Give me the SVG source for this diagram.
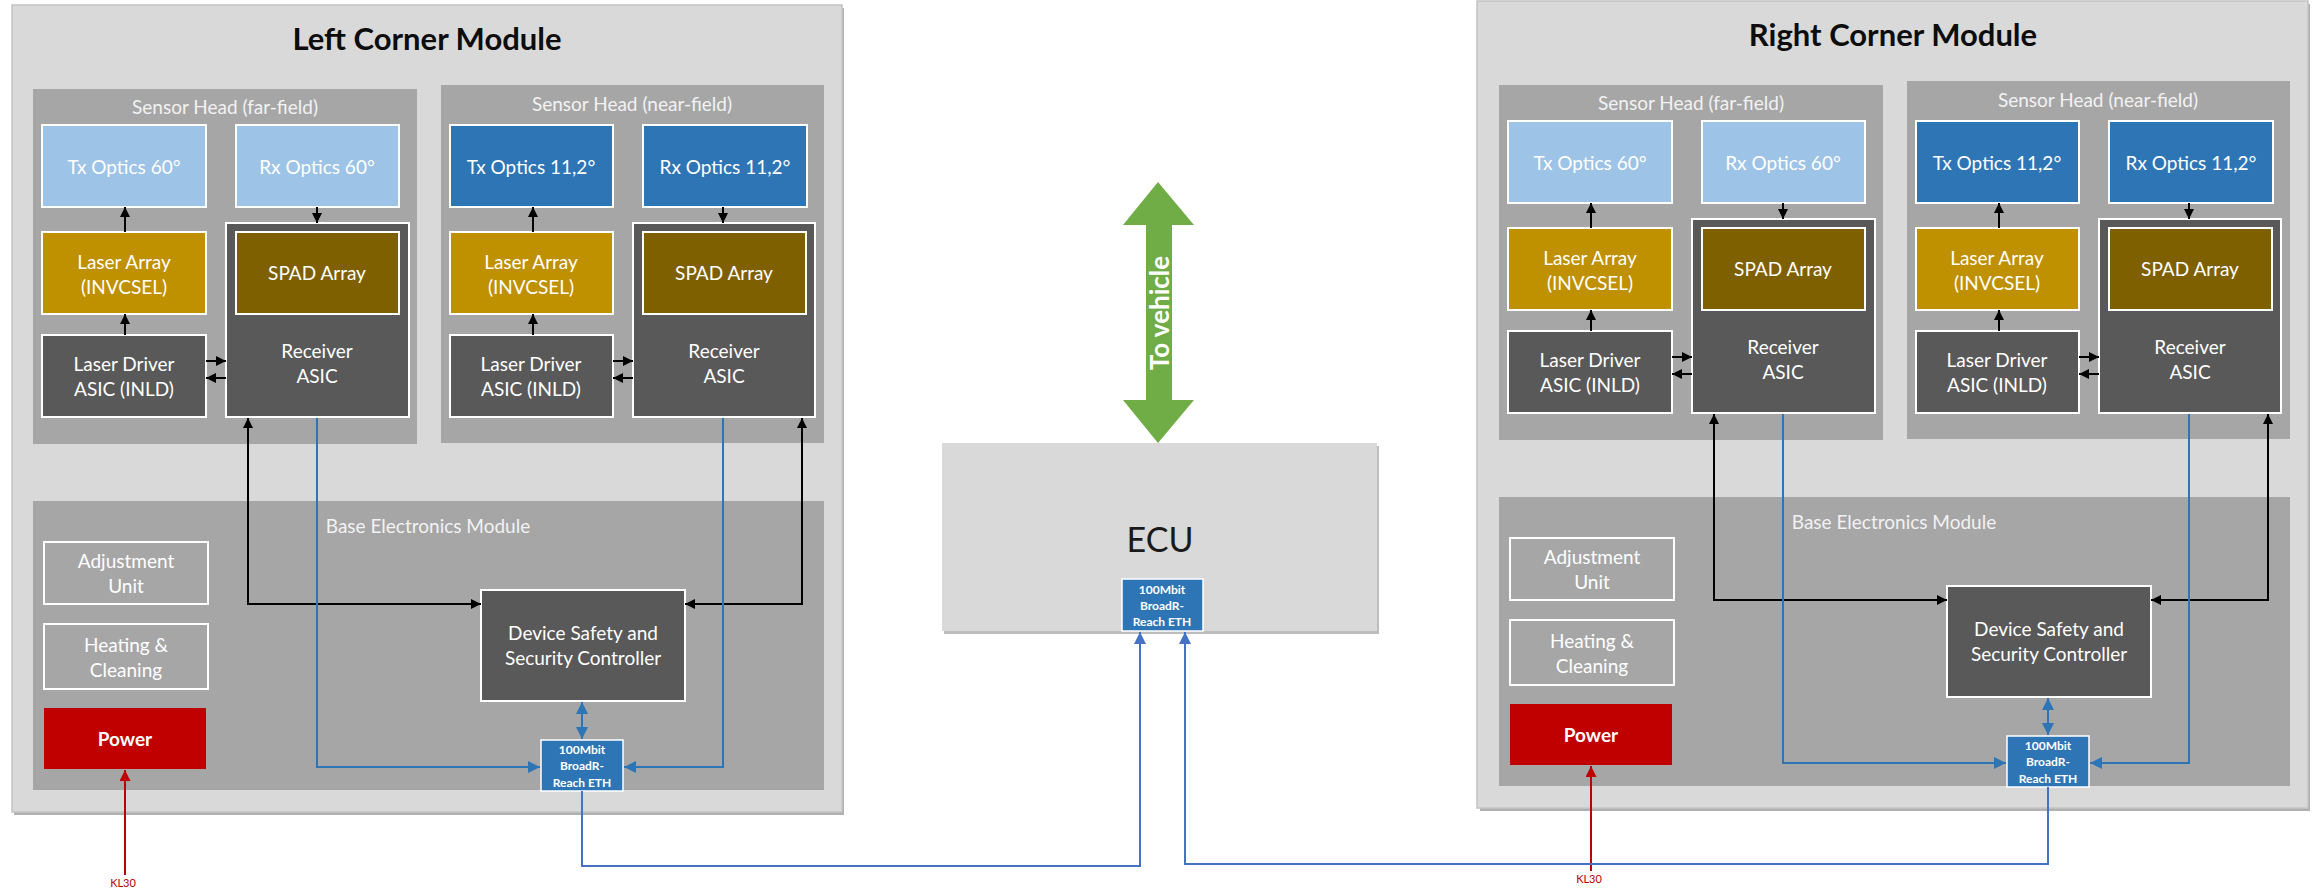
<svg xmlns="http://www.w3.org/2000/svg" width="2313" height="888" viewBox="0 0 2313 888">
<defs>
<style>
text{font-family:Lato,"Open Sans","Liberation Sans",sans-serif;text-anchor:middle;dominant-baseline:central}
.mod{fill:#D9D9D9;stroke:#C4C4C4;stroke-width:1.5}
.modsh{fill:#B0B0B0}
.head{fill:#A6A6A6}
.hl{fill:#F2F2F2;font-size:19px}
.title{fill:#0D0D0D;font-size:31px;font-weight:bold}
.box{stroke:#FFFFFF;stroke-width:2}
.lt{fill:#9DC3E6}
.dk{fill:#2E75B6}
.la{fill:#BF9000}
.sp{fill:#7F6000}
.gr{fill:#595959}
.out{fill:none}
.pw{fill:#C00000;stroke:none}
.eth{fill:#2E75B6;stroke:#FFFFFF;stroke-width:1.5}
.t{fill:#FFFFFF;font-size:19px}
.tb{fill:#FFFFFF;font-size:19px;font-weight:bold}
.te{fill:#FFFFFF;font-size:12px;font-weight:bold}
.kl{fill:#C00000;font-size:11px}
.cb{fill:none;stroke:#000000;stroke-width:2}
.cbl{fill:none;stroke:#2E75B6;stroke-width:2}
.cec{fill:none;stroke:#4472C4;stroke-width:2}
.cr{fill:none;stroke:#C00000;stroke-width:2}
</style>
<marker id="ab" viewBox="0 0 10 10" refX="10" refY="5" markerWidth="10" markerHeight="10" markerUnits="userSpaceOnUse" orient="auto-start-reverse"><path d="M0,0 L10,5 L0,10 z" fill="#000000"/></marker>
<marker id="abl" viewBox="0 0 10 10" refX="10" refY="5" markerWidth="12" markerHeight="13" markerUnits="userSpaceOnUse" orient="auto-start-reverse"><path d="M0,0 L10,5 L0,10 z" fill="#2E75B6"/></marker>
<marker id="aec" viewBox="0 0 10 10" refX="10" refY="5" markerWidth="12" markerHeight="13" markerUnits="userSpaceOnUse" orient="auto-start-reverse"><path d="M0,0 L10,5 L0,10 z" fill="#4472C4"/></marker>
<marker id="ar" viewBox="0 0 10 10" refX="10" refY="5" markerWidth="12" markerHeight="11" markerUnits="userSpaceOnUse" orient="auto-start-reverse"><path d="M0,0 L10,5 L0,10 z" fill="#C00000"/></marker>
</defs>
<rect x="0" y="0" width="2313" height="888" fill="#FFFFFF"/>

<!-- LEFT CORNER MODULE -->
<g id="left-module">
<g id="l-outer"><rect class="modsh" x="14" y="8" width="830" height="807"/><rect class="mod" x="12" y="5" width="830" height="807"/><text class="title" x="427" y="38">Left Corner Module</text></g>
<g id="l-head-far"><rect class="head" x="33" y="89" width="384" height="355"/><text class="hl" x="225" y="106">Sensor Head (far-field)</text></g>
<g id="l-head-near"><rect class="head" x="441" y="85" width="383" height="358"/><text class="hl" x="632" y="103">Sensor Head (near-field)</text></g>
<g id="l-base"><rect class="head" x="33" y="501" width="791" height="289"/><text class="hl" x="428" y="525">Base Electronics Module</text></g>
<g id="l-tx60"><rect class="box lt" x="42" y="125" width="164" height="82"/><text class="t" x="124" y="166">Tx Optics 60°</text></g>
<g id="l-rx60"><rect class="box lt" x="236" y="125" width="163" height="82"/><text class="t" x="317" y="166">Rx Optics 60°</text></g>
<g id="l-laser-far"><rect class="box la" x="42" y="232" width="164" height="82"/><text class="t" x="124" y="261">Laser Array</text><text class="t" x="124" y="286">(INVCSEL)</text></g>
<g id="l-rcv-far"><rect class="box gr" x="226" y="223" width="183" height="194"/><text class="t" x="317" y="350">Receiver</text><text class="t" x="317" y="375">ASIC</text></g>
<g id="l-spad-far"><rect class="box sp" x="236" y="232" width="163" height="82"/><text class="t" x="317" y="272">SPAD Array</text></g>
<g id="l-drv-far"><rect class="box gr" x="42" y="335" width="164" height="82"/><text class="t" x="124" y="363">Laser Driver</text><text class="t" x="124" y="388">ASIC (INLD)</text></g>
<g id="l-tx11"><rect class="box dk" x="450" y="125" width="163" height="82"/><text class="t" x="531" y="166">Tx Optics 11,2°</text></g>
<g id="l-rx11"><rect class="box dk" x="643" y="125" width="164" height="82"/><text class="t" x="725" y="166">Rx Optics 11,2°</text></g>
<g id="l-laser-near"><rect class="box la" x="450" y="232" width="163" height="82"/><text class="t" x="531" y="261">Laser Array</text><text class="t" x="531" y="286">(INVCSEL)</text></g>
<g id="l-rcv-near"><rect class="box gr" x="633" y="223" width="182" height="194"/><text class="t" x="724" y="350">Receiver</text><text class="t" x="724" y="375">ASIC</text></g>
<g id="l-spad-near"><rect class="box sp" x="643" y="232" width="163" height="82"/><text class="t" x="724" y="272">SPAD Array</text></g>
<g id="l-drv-near"><rect class="box gr" x="450" y="335" width="163" height="82"/><text class="t" x="531" y="363">Laser Driver</text><text class="t" x="531" y="388">ASIC (INLD)</text></g>
<g id="l-adjust"><rect class="box out" x="44" y="542" width="164" height="62"/><text class="t" x="126" y="560">Adjustment</text><text class="t" x="126" y="585">Unit</text></g>
<g id="l-heating"><rect class="box out" x="44" y="624" width="164" height="65"/><text class="t" x="126" y="644">Heating &amp;</text><text class="t" x="126" y="669">Cleaning</text></g>
<g id="l-power"><rect class="pw" x="44" y="708" width="162" height="61"/><text class="tb" x="125" y="738">Power</text></g>
<g id="l-dssc"><rect class="box gr" x="481" y="590" width="204" height="111"/><text class="t" x="583" y="632">Device Safety and</text><text class="t" x="583" y="657">Security Controller</text></g>
<g id="l-eth"><rect class="eth" x="541" y="740" width="82" height="51"/><text class="te" x="582" y="749">100Mbit</text><text class="te" x="582" y="765">BroadR-</text><text class="te" x="582" y="782">Reach ETH</text></g>
<g id="l-kl30"><text class="kl" x="123" y="882">KL30</text></g>
</g>

<!-- RIGHT CORNER MODULE -->
<g id="right-module" transform="translate(1466,-4)">
<g id="r-outer"><rect class="modsh" x="14" y="8" width="830" height="807"/><rect class="mod" x="11" y="5" width="831" height="807"/><text class="title" x="427" y="38">Right Corner Module</text></g>
<g id="r-head-far"><rect class="head" x="33" y="89" width="384" height="355"/><text class="hl" x="225" y="106">Sensor Head (far-field)</text></g>
<g id="r-head-near"><rect class="head" x="441" y="85" width="383" height="358"/><text class="hl" x="632" y="103">Sensor Head (near-field)</text></g>
<g id="r-base"><rect class="head" x="33" y="501" width="791" height="289"/><text class="hl" x="428" y="525">Base Electronics Module</text></g>
<g id="r-tx60"><rect class="box lt" x="42" y="125" width="164" height="82"/><text class="t" x="124" y="166">Tx Optics 60°</text></g>
<g id="r-rx60"><rect class="box lt" x="236" y="125" width="163" height="82"/><text class="t" x="317" y="166">Rx Optics 60°</text></g>
<g id="r-laser-far"><rect class="box la" x="42" y="232" width="164" height="82"/><text class="t" x="124" y="261">Laser Array</text><text class="t" x="124" y="286">(INVCSEL)</text></g>
<g id="r-rcv-far"><rect class="box gr" x="226" y="223" width="183" height="194"/><text class="t" x="317" y="350">Receiver</text><text class="t" x="317" y="375">ASIC</text></g>
<g id="r-spad-far"><rect class="box sp" x="236" y="232" width="163" height="82"/><text class="t" x="317" y="272">SPAD Array</text></g>
<g id="r-drv-far"><rect class="box gr" x="42" y="335" width="164" height="82"/><text class="t" x="124" y="363">Laser Driver</text><text class="t" x="124" y="388">ASIC (INLD)</text></g>
<g id="r-tx11"><rect class="box dk" x="450" y="125" width="163" height="82"/><text class="t" x="531" y="166">Tx Optics 11,2°</text></g>
<g id="r-rx11"><rect class="box dk" x="643" y="125" width="164" height="82"/><text class="t" x="725" y="166">Rx Optics 11,2°</text></g>
<g id="r-laser-near"><rect class="box la" x="450" y="232" width="163" height="82"/><text class="t" x="531" y="261">Laser Array</text><text class="t" x="531" y="286">(INVCSEL)</text></g>
<g id="r-rcv-near"><rect class="box gr" x="633" y="223" width="182" height="194"/><text class="t" x="724" y="350">Receiver</text><text class="t" x="724" y="375">ASIC</text></g>
<g id="r-spad-near"><rect class="box sp" x="643" y="232" width="163" height="82"/><text class="t" x="724" y="272">SPAD Array</text></g>
<g id="r-drv-near"><rect class="box gr" x="450" y="335" width="163" height="82"/><text class="t" x="531" y="363">Laser Driver</text><text class="t" x="531" y="388">ASIC (INLD)</text></g>
<g id="r-adjust"><rect class="box out" x="44" y="542" width="164" height="62"/><text class="t" x="126" y="560">Adjustment</text><text class="t" x="126" y="585">Unit</text></g>
<g id="r-heating"><rect class="box out" x="44" y="624" width="164" height="65"/><text class="t" x="126" y="644">Heating &amp;</text><text class="t" x="126" y="669">Cleaning</text></g>
<g id="r-power"><rect class="pw" x="44" y="708" width="162" height="61"/><text class="tb" x="125" y="738">Power</text></g>
<g id="r-dssc"><rect class="box gr" x="481" y="590" width="204" height="111"/><text class="t" x="583" y="632">Device Safety and</text><text class="t" x="583" y="657">Security Controller</text></g>
<g id="r-eth"><rect class="eth" x="541" y="740" width="82" height="51"/><text class="te" x="582" y="749">100Mbit</text><text class="te" x="582" y="765">BroadR-</text><text class="te" x="582" y="782">Reach ETH</text></g>
<g id="r-kl30"><text class="kl" x="123" y="882">KL30</text></g>
</g>

<!-- ECU -->
<g id="ecu"><rect x="944" y="446" width="435" height="188" fill="#BDBDBD"/><rect x="942" y="443" width="435" height="188" fill="#D9D9D9"/><text x="1160" y="538" fill="#1A1A1A" style="font-size:34px">ECU</text></g>
<g id="ecu-eth"><rect class="eth" x="1122" y="579" width="81" height="52"/><text class="te" x="1162" y="589">100Mbit</text><text class="te" x="1162" y="605">BroadR-</text><text class="te" x="1162" y="621">Reach ETH</text></g>
<g id="to-vehicle"><polygon points="1158,182 1194,225 1172,225 1172,400 1194,400 1158,443 1123,400 1146,400 1146,225 1123,225" fill="#70AD47"/><text x="1159" y="313" fill="#FFFFFF" style="font-size:26px;font-weight:bold" transform="rotate(-90 1159 313)">To vehicle</text></g>

<!-- CONNECTORS -->
<g id="connectors">
<g id="left-connectors">
<path class="cb" d="M125,232 L125,207" marker-end="url(#ab)"/>
<path class="cb" d="M125,335 L125,314" marker-end="url(#ab)"/>
<path class="cb" d="M317,207 L317,223" marker-end="url(#ab)"/>
<path class="cb" d="M206,361 L226,361" marker-end="url(#ab)"/>
<path class="cb" d="M226,378 L206,378" marker-end="url(#ab)"/>
<path class="cb" d="M533,232 L533,207" marker-end="url(#ab)"/>
<path class="cb" d="M533,335 L533,314" marker-end="url(#ab)"/>
<path class="cb" d="M723,207 L723,223" marker-end="url(#ab)"/>
<path class="cb" d="M613,361 L633,361" marker-end="url(#ab)"/>
<path class="cb" d="M633,378 L613,378" marker-end="url(#ab)"/>
<path class="cb" d="M248,418 L248,604 L481,604" marker-start="url(#ab)" marker-end="url(#ab)"/>
<path class="cb" d="M802,418 L802,604 L685,604" marker-start="url(#ab)" marker-end="url(#ab)"/>
<path class="cbl" d="M317,418 L317,767 L540,767" marker-end="url(#abl)"/>
<path class="cbl" d="M723,418 L723,767 L624,767" marker-end="url(#abl)"/>
<path class="cbl" d="M582,702 L582,739" marker-start="url(#abl)" marker-end="url(#abl)"/>
<path class="cr" d="M125,875 L125,770" marker-end="url(#ar)"/>
</g>
<g id="right-connectors" transform="translate(1466,-4)">
<path class="cb" d="M125,232 L125,207" marker-end="url(#ab)"/>
<path class="cb" d="M125,335 L125,314" marker-end="url(#ab)"/>
<path class="cb" d="M317,207 L317,223" marker-end="url(#ab)"/>
<path class="cb" d="M206,361 L226,361" marker-end="url(#ab)"/>
<path class="cb" d="M226,378 L206,378" marker-end="url(#ab)"/>
<path class="cb" d="M533,232 L533,207" marker-end="url(#ab)"/>
<path class="cb" d="M533,335 L533,314" marker-end="url(#ab)"/>
<path class="cb" d="M723,207 L723,223" marker-end="url(#ab)"/>
<path class="cb" d="M613,361 L633,361" marker-end="url(#ab)"/>
<path class="cb" d="M633,378 L613,378" marker-end="url(#ab)"/>
<path class="cb" d="M248,418 L248,604 L481,604" marker-start="url(#ab)" marker-end="url(#ab)"/>
<path class="cb" d="M802,418 L802,604 L685,604" marker-start="url(#ab)" marker-end="url(#ab)"/>
<path class="cbl" d="M317,418 L317,767 L540,767" marker-end="url(#abl)"/>
<path class="cbl" d="M723,418 L723,767 L624,767" marker-end="url(#abl)"/>
<path class="cbl" d="M582,702 L582,739" marker-start="url(#abl)" marker-end="url(#abl)"/>
<path class="cr" d="M125,875 L125,770" marker-end="url(#ar)"/>
</g>
<path class="cec" d="M582,791 L582,866 L1140,866 L1140,632" marker-end="url(#aec)"/>
<path class="cec" d="M2048,787 L2048,864 L1185,864 L1185,632" marker-end="url(#aec)"/>
</g>
</svg>
